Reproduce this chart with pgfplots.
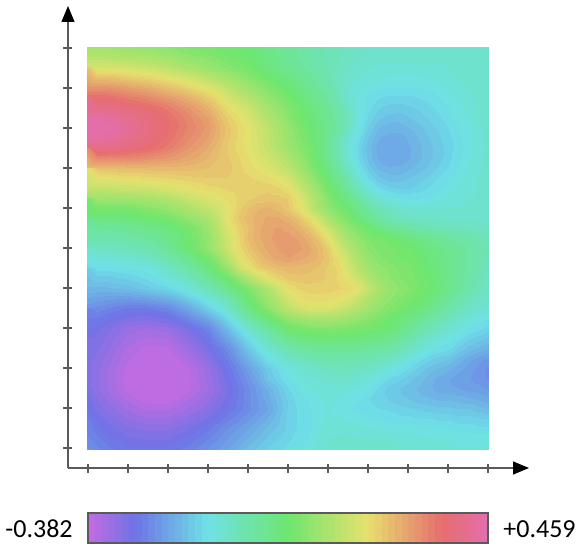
\documentclass[border=0pt]{standalone}
\usepackage{fontspec}
\setmainfont{Carlito}
\usepackage{pgfplots}
\pgfplotsset{compat=1.18}
\usetikzlibrary{arrows.meta}
\definecolor{axgray}{RGB}{90,90,90}
\pgfplotsset{
  colormap={hue}{
    rgb255(0)=(190,108,225)
    rgb255(0.11)=(110,115,230)
    rgb255(0.295)=(110,225,230)
    rgb255(0.5)=(110,230,110)
    rgb255(0.7)=(230,225,110)
    rgb255(0.89)=(230,110,110)
    rgb255(1)=(228,110,170)
  },
  colormap={bands}{samples of colormap=(60 of hue)},
  colormap access=piecewise constant,
}
\begin{document}
\begin{tikzpicture}[x=1pt,y=1pt]
\path[use as bounding box] (0,0) rectangle (584,550);
\begin{axis}[
  at={(68pt,82pt)}, anchor=south west, scale only axis,
  width=461pt, height=462pt,
  xmin=-0.5, xmax=11.025, ymin=-0.5, ymax=11.05,
  axis lines=left,
  axis line style={axgray, line width=1.3pt, -{Triangle[black,length=16pt,width=13pt]}},
  xtick={0,1,...,10}, ytick={0,1,...,10},
  xticklabels={}, yticklabels={},
  tick align=center, major tick length=9pt,
  tick style={axgray, line width=1.1pt},
  colormap name=bands,
  point meta min=-0.382, point meta max=0.459,
]
\addplot[surf, shader=interp, mesh/cols=41, mesh/ordering=x varies,
  point meta={-0.382+0.841*\thisrowno{0}}]
  table[row sep=\\, header=false,
    x expr={mod(\coordindex,41)*0.25125-0.025},
    y expr={10.025-floor(\coordindex/41)*0.25125}, y index=0] {
.58\\.58\\.58\\.575\\.57\\.565\\.56\\.555\\.55\\.54\\.53\\.525\\.52\\.51\\.50\\.495\\.49\\.475\\.46\\.445\\.43\\.415\\.40\\.39\\.38\\.37\\.36\\.355\\.35\\.35\\.35\\.345\\.34\\.34\\.34\\.34\\.34\\.34\\.34\\.34\\.34\\
.62\\.62\\.62\\.615\\.61\\.605\\.60\\.59\\.585\\.57\\.56\\.55\\.54\\.53\\.515\\.505\\.495\\.48\\.46\\.445\\.43\\.415\\.40\\.39\\.38\\.37\\.355\\.35\\.345\\.34\\.34\\.34\\.34\\.34\\.34\\.34\\.34\\.34\\.34\\.34\\.34\\
.67\\.67\\.67\\.665\\.66\\.655\\.65\\.64\\.63\\.615\\.60\\.585\\.57\\.555\\.54\\.525\\.51\\.49\\.47\\.455\\.44\\.425\\.41\\.395\\.38\\.365\\.35\\.345\\.335\\.33\\.33\\.33\\.33\\.33\\.33\\.33\\.335\\.335\\.34\\.34\\.34\\
.745\\.745\\.745\\.74\\.73\\.72\\.715\\.70\\.69\\.675\\.66\\.645\\.625\\.605\\.585\\.565\\.545\\.52\\.50\\.48\\.465\\.445\\.425\\.41\\.39\\.365\\.34\\.33\\.325\\.32\\.315\\.315\\.315\\.315\\.32\\.325\\.33\\.335\\.34\\.34\\.34\\
.82\\.82\\.82\\.81\\.80\\.79\\.78\\.765\\.75\\.735\\.72\\.70\\.68\\.655\\.63\\.605\\.58\\.555\\.53\\.51\\.49\\.465\\.44\\.42\\.40\\.365\\.335\\.32\\.31\\.305\\.30\\.30\\.30\\.30\\.305\\.31\\.32\\.33\\.335\\.34\\.34\\
.88\\.88\\.88\\.87\\.86\\.85\\.84\\.825\\.81\\.795\\.775\\.755\\.73\\.70\\.665\\.64\\.615\\.59\\.56\\.535\\.51\\.485\\.46\\.44\\.415\\.38\\.335\\.31\\.295\\.285\\.28\\.28\\.28\\.285\\.29\\.30\\.31\\.325\\.33\\.34\\.34\\
.93\\.93\\.93\\.92\\.91\\.90\\.89\\.875\\.86\\.84\\.82\\.795\\.77\\.735\\.70\\.675\\.65\\.62\\.59\\.56\\.53\\.505\\.48\\.455\\.43\\.395\\.355\\.315\\.29\\.27\\.26\\.26\\.265\\.27\\.28\\.29\\.30\\.315\\.325\\.335\\.34\\
.976\\.975\\.97\\.96\\.945\\.93\\.914\\.90\\.884\\.865\\.843\\.82\\.80\\.76\\.725\\.70\\.674\\.64\\.61\\.58\\.545\\.515\\.49\\.46\\.435\\.405\\.365\\.315\\.28\\.255\\.245\\.24\\.25\\.26\\.27\\.28\\.295\\.31\\.32\\.335\\.34\\
1.0\\1.0\\.99\\.98\\.96\\.94\\.92\\.905\\.89\\.87\\.85\\.83\\.81\\.775\\.74\\.715\\.69\\.66\\.63\\.595\\.56\\.53\\.50\\.47\\.44\\.41\\.36\\.31\\.265\\.235\\.225\\.225\\.235\\.245\\.26\\.27\\.285\\.30\\.315\\.33\\.34\\
.98\\.978\\.975\\.962\\.948\\.93\\.915\\.90\\.883\\.86\\.84\\.82\\.80\\.77\\.737\\.715\\.69\\.665\\.635\\.60\\.57\\.54\\.51\\.475\\.435\\.39\\.335\\.295\\.25\\.22\\.21\\.21\\.22\\.235\\.25\\.265\\.28\\.295\\.31\\.33\\.34\\
.93\\.93\\.93\\.92\\.91\\.90\\.89\\.875\\.86\\.84\\.82\\.80\\.78\\.755\\.73\\.71\\.69\\.665\\.64\\.61\\.58\\.55\\.52\\.475\\.43\\.375\\.32\\.28\\.24\\.21\\.20\\.205\\.215\\.23\\.245\\.26\\.275\\.295\\.31\\.325\\.34\\
.84\\.84\\.84\\.84\\.84\\.835\\.83\\.82\\.814\\.805\\.793\\.78\\.766\\.75\\.735\\.72\\.70\\.68\\.66\\.635\\.605\\.57\\.535\\.49\\.445\\.39\\.33\\.285\\.245\\.215\\.20\\.205\\.215\\.23\\.245\\.26\\.28\\.295\\.315\\.33\\.34\\
.75\\.75\\.75\\.755\\.76\\.76\\.76\\.76\\.76\\.76\\.76\\.755\\.75\\.745\\.74\\.725\\.71\\.695\\.68\\.655\\.63\\.59\\.55\\.505\\.46\\.41\\.36\\.30\\.26\\.23\\.22\\.22\\.23\\.24\\.255\\.27\\.285\\.30\\.32\\.33\\.34\\
.69\\.69\\.69\\.70\\.70\\.705\\.71\\.713\\.716\\.722\\.727\\.73\\.733\\.733\\.733\\.727\\.72\\.712\\.705\\.69\\.665\\.625\\.58\\.535\\.485\\.44\\.39\\.33\\.285\\.255\\.24\\.24\\.25\\.26\\.27\\.285\\.30\\.31\\.325\\.335\\.34\\
.64\\.64\\.64\\.645\\.65\\.655\\.66\\.665\\.67\\.68\\.69\\.70\\.71\\.715\\.72\\.725\\.73\\.73\\.73\\.72\\.70\\.655\\.61\\.56\\.51\\.465\\.42\\.37\\.325\\.29\\.27\\.265\\.265\\.275\\.285\\.295\\.31\\.32\\.33\\.335\\.34\\
.58\\.58\\.58\\.58\\.585\\.59\\.60\\.607\\.615\\.63\\.646\\.66\\.675\\.69\\.705\\.72\\.73\\.735\\.74\\.74\\.731\\.69\\.64\\.59\\.54\\.495\\.455\\.41\\.37\\.335\\.31\\.30\\.295\\.295\\.30\\.31\\.32\\.325\\.33\\.335\\.34\\
.52\\.52\\.52\\.52\\.52\\.53\\.54\\.55\\.56\\.58\\.60\\.62\\.64\\.665\\.69\\.725\\.75\\.765\\.77\\.76\\.735\\.70\\.655\\.60\\.555\\.52\\.49\\.45\\.41\\.38\\.36\\.345\\.335\\.33\\.33\\.33\\.335\\.335\\.34\\.34\\.34\\
.475\\.472\\.47\\.472\\.475\\.485\\.495\\.505\\.515\\.535\\.555\\.58\\.605\\.645\\.695\\.735\\.76\\.778\\.788\\.786\\.772\\.746\\.708\\.658\\.60\\.555\\.52\\.485\\.45\\.41\\.385\\.37\\.36\\.355\\.35\\.345\\.345\\.345\\.345\\.345\\.345\\
.43\\.425\\.42\\.425\\.43\\.44\\.45\\.46\\.47\\.49\\.51\\.54\\.57\\.625\\.68\\.72\\.75\\.778\\.796\\.802\\.796\\.778\\.748\\.706\\.655\\.60\\.56\\.53\\.505\\.47\\.44\\.425\\.41\\.40\\.39\\.38\\.375\\.37\\.365\\.36\\.355\\
.395\\.392\\.39\\.395\\.40\\.41\\.42\\.435\\.45\\.475\\.50\\.532\\.565\\.615\\.66\\.71\\.755\\.78\\.798\\.806\\.808\\.798\\.776\\.742\\.696\\.64\\.59\\.555\\.53\\.52\\.51\\.49\\.475\\.46\\.445\\.43\\.415\\.405\\.395\\.38\\.37\\
.36\\.36\\.36\\.365\\.37\\.38\\.39\\.41\\.43\\.46\\.49\\.525\\.56\\.61\\.661\\.705\\.741\\.769\\.79\\.803\\.809\\.806\\.792\\.766\\.728\\.67\\.62\\.58\\.545\\.525\\.52\\.51\\.50\\.485\\.47\\.455\\.44\\.425\\.41\\.395\\.38\\
.325\\.325\\.325\\.33\\.335\\.342\\.35\\.37\\.39\\.417\\.445\\.478\\.51\\.56\\.62\\.679\\.719\\.751\\.775\\.792\\.80\\.79\\.78\\.765\\.74\\.70\\.651\\.60\\.565\\.54\\.525\\.515\\.51\\.495\\.48\\.463\\.445\\.428\\.41\\.39\\.37\\
.29\\.29\\.29\\.295\\.30\\.305\\.31\\.33\\.35\\.375\\.40\\.435\\.47\\.52\\.57\\.646\\.69\\.725\\.74\\.755\\.76\\.76\\.755\\.745\\.73\\.715\\.67\\.62\\.585\\.56\\.545\\.53\\.52\\.505\\.49\\.47\\.45\\.43\\.41\\.385\\.36\\
.26\\.26\\.26\\.265\\.27\\.277\\.285\\.30\\.315\\.337\\.36\\.392\\.425\\.462\\.50\\.555\\.61\\.65\\.695\\.72\\.74\\.745\\.745\\.74\\.73\\.715\\.69\\.65\\.61\\.575\\.55\\.535\\.525\\.51\\.495\\.472\\.45\\.428\\.405\\.38\\.355\\
.23\\.23\\.23\\.235\\.24\\.25\\.26\\.27\\.28\\.30\\.32\\.35\\.38\\.415\\.45\\.49\\.53\\.57\\.61\\.655\\.70\\.72\\.725\\.725\\.725\\.72\\.715\\.695\\.645\\.60\\.57\\.55\\.535\\.515\\.50\\.475\\.45\\.425\\.40\\.375\\.35\\
.20\\.195\\.19\\.187\\.185\\.19\\.195\\.205\\.215\\.235\\.26\\.29\\.32\\.355\\.39\\.44\\.495\\.54\\.58\\.625\\.665\\.695\\.71\\.71\\.705\\.695\\.68\\.645\\.61\\.58\\.555\\.535\\.52\\.50\\.48\\.455\\.425\\.398\\.37\\.355\\.345\\
.17\\.16\\.15\\.14\\.13\\.13\\.13\\.14\\.15\\.175\\.20\\.235\\.27\\.307\\.345\\.40\\.46\\.505\\.55\\.59\\.63\\.66\\.675\\.68\\.675\\.66\\.64\\.615\\.585\\.56\\.535\\.515\\.50\\.48\\.46\\.43\\.40\\.375\\.35\\.34\\.33\\
.145\\.132\\.12\\.107\\.095\\.092\\.09\\.097\\.105\\.127\\.15\\.177\\.205\\.247\\.29\\.345\\.40\\.442\\.485\\.525\\.565\\.58\\.595\\.598\\.60\\.59\\.58\\.565\\.545\\.525\\.50\\.48\\.465\\.44\\.41\\.39\\.37\\.345\\.325\\.31\\.30\\
.12\\.105\\.09\\.075\\.06\\.055\\.05\\.055\\.06\\.08\\.10\\.125\\.15\\.195\\.24\\.29\\.34\\.38\\.42\\.46\\.50\\.515\\.53\\.535\\.54\\.535\\.53\\.52\\.51\\.505\\.49\\.465\\.435\\.405\\.38\\.36\\.34\\.32\\.30\\.29\\.275\\
.11\\.095\\.08\\.062\\.045\\.037\\.03\\.032\\.035\\.055\\.075\\.10\\.125\\.162\\.20\\.247\\.295\\.335\\.375\\.41\\.445\\.46\\.475\\.48\\.485\\.482\\.48\\.472\\.465\\.46\\.445\\.425\\.40\\.37\\.345\\.325\\.31\\.29\\.27\\.26\\.245\\
.10\\.085\\.07\\.05\\.03\\.02\\.01\\.01\\.01\\.03\\.05\\.075\\.10\\.13\\.16\\.205\\.25\\.29\\.33\\.36\\.39\\.405\\.42\\.425\\.43\\.43\\.43\\.425\\.42\\.41\\.40\\.38\\.36\\.335\\.31\\.295\\.285\\.26\\.24\\.225\\.215\\
.095\\.077\\.06\\.04\\.02\\.007\\-.005\\-.005\\-.005\\.012\\.03\\.055\\.08\\.11\\.14\\.18\\.22\\.257\\.295\\.322\\.35\\.365\\.38\\.387\\.395\\.395\\.39\\.385\\.385\\.37\\.36\\.335\\.31\\.29\\.27\\.26\\.25\\.225\\.205\\.19\\.175\\
.09\\.07\\.05\\.03\\.01\\-.005\\-.02\\-.02\\-.02\\-.005\\.01\\.035\\.06\\.09\\.12\\.155\\.19\\.225\\.26\\.285\\.31\\.325\\.34\\.35\\.36\\.365\\.37\\.36\\.35\\.335\\.32\\.30\\.28\\.26\\.24\\.23\\.22\\.205\\.19\\.175\\.16\\
.09\\.07\\.05\\.03\\.01\\-.01\\-.03\\-.03\\-.03\\-.01\\.01\\.032\\.055\\.082\\.11\\.142\\.175\\.207\\.25\\.275\\.30\\.315\\.33\\.335\\.34\\.345\\.345\\.335\\.32\\.30\\.28\\.27\\.255\\.24\\.225\\.21\\.20\\.19\\.185\\.175\\.165\\
.09\\.07\\.05\\.03\\.01\\-.005\\-.02\\-.02\\-.02\\-.005\\.01\\.03\\.05\\.075\\.10\\.13\\.16\\.19\\.22\\.25\\.28\\.30\\.315\\.32\\.325\\.325\\.325\\.31\\.30\\.28\\.26\\.25\\.24\\.23\\.22\\.21\\.205\\.20\\.195\\.19\\.18\\
.10\\.082\\.065\\.047\\.03\\.017\\.005\\.005\\.005\\.017\\.03\\.047\\.065\\.087\\.11\\.135\\.16\\.185\\.21\\.24\\.27\\.29\\.30\\.315\\.32\\.315\\.31\\.30\\.285\\.275\\.265\\.255\\.25\\.24\\.235\\.23\\.23\\.225\\.22\\.215\\.205\\
.11\\.095\\.08\\.065\\.05\\.04\\.03\\.03\\.03\\.04\\.05\\.065\\.08\\.10\\.12\\.14\\.16\\.18\\.20\\.235\\.27\\.285\\.295\\.31\\.32\\.31\\.30\\.295\\.29\\.285\\.28\\.275\\.27\\.265\\.26\\.255\\.255\\.25\\.25\\.24\\.235\\
.125\\.11\\.095\\.082\\.07\\.062\\.055\\.055\\.055\\.065\\.075\\.09\\.105\\.125\\.145\\.162\\.18\\.20\\.22\\.245\\.27\\.285\\.295\\.31\\.32\\.32\\.315\\.31\\.30\\.30\\.295\\.29\\.29\\.285\\.285\\.28\\.28\\.275\\.275\\.27\\.265\\
.14\\.125\\.11\\.10\\.09\\.085\\.08\\.08\\.08\\.09\\.10\\.115\\.13\\.15\\.17\\.185\\.20\\.22\\.24\\.255\\.27\\.285\\.295\\.315\\.325\\.33\\.33\\.325\\.32\\.315\\.31\\.31\\.31\\.305\\.305\\.30\\.30\\.295\\.295\\.29\\.29\\
.155\\.14\\.125\\.115\\.105\\.102\\.10\\.10\\.10\\.11\\.12\\.135\\.15\\.167\\.185\\.202\\.22\\.237\\.255\\.267\\.28\\.29\\.30\\.32\\.335\\.335\\.34\\.335\\.335\\.335\\.335\\.33\\.33\\.325\\.32\\.32\\.315\\.31\\.31\\.31\\.31\\
.17\\.155\\.14\\.13\\.12\\.12\\.12\\.12\\.12\\.13\\.14\\.155\\.17\\.185\\.20\\.22\\.24\\.255\\.27\\.28\\.29\\.30\\.31\\.325\\.34\\.34\\.345\\.345\\.34\\.34\\.335\\.335\\.335\\.33\\.33\\.33\\.325\\.32\\.32\\.32\\.32\\
};
\end{axis}
\begin{axis}[
  at={(88pt,7pt)}, anchor=south west, scale only axis,
  width=400pt, height=30pt,
  xmin=-0.382, xmax=0.459, ymin=0, ymax=1,
  xtick=\empty, ytick=\empty, axis on top,
  axis line style={axgray, line width=1.3pt},
  colormap name=bands,
  point meta min=-0.382, point meta max=0.459,
]
\addplot[surf, shader=interp, mesh/cols=2, mesh/ordering=x varies, point meta=x]
  table[row sep=\\] {x y\\ -0.382 0\\ 0.459 0\\ -0.382 1\\ 0.459 1\\};
\end{axis}
\node[font=\fontsize{26}{30}\selectfont, anchor=center] at (39,21) {-0.382};
\node[font=\fontsize{26}{30}\selectfont, anchor=center] at (539.5,21) {+0.459};
\end{tikzpicture}
\end{document}
